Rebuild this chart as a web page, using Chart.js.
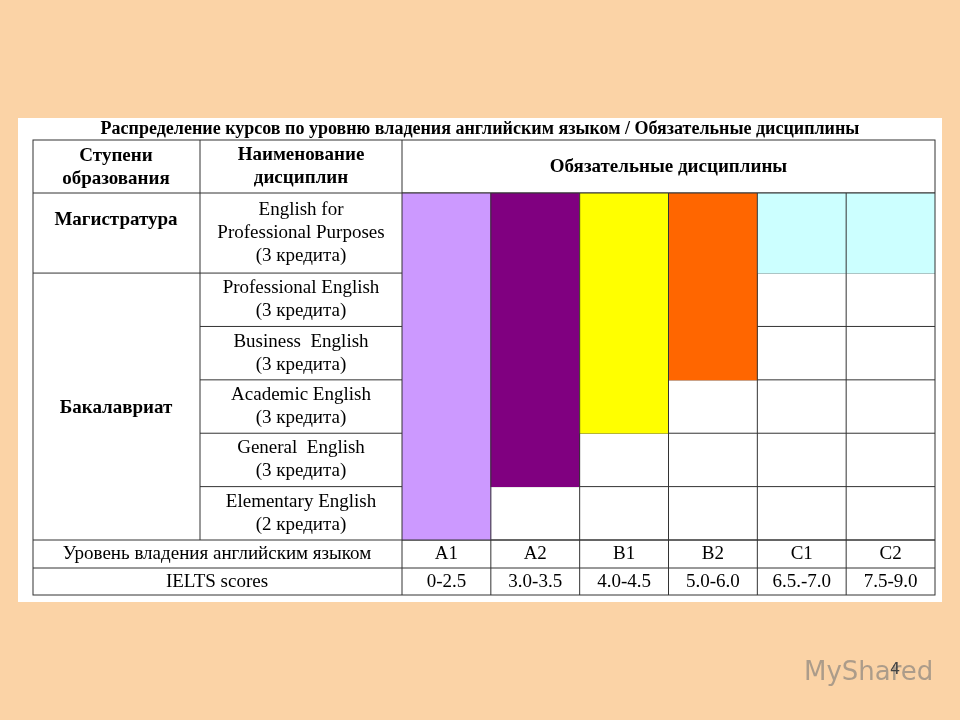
<!DOCTYPE html>
<html>
<head>
<meta charset="utf-8">
<script src="https://cdn.jsdelivr.net/npm/chart.js@4"></script>
<style>
  body { margin: 0; background: #fbd3a6; }
  #wrap { width: 960px; height: 720px; }
</style>
</head>
<body>
<div id="wrap"><canvas id="chart" width="960" height="720"></canvas></div>
<script>
// Data
const levels = ['A1', 'A2', 'B1', 'B2', 'C1', 'C2'];
const ieltsScores = ['0-2.5', '3.0-3.5', '4.0-4.5', '5.0-6.0', '6.5.-7.0', '7.5-9.0'];
// row boundaries: Magistratura 0-1.5, then five bachelor rows of 1 unit each
const rowBounds = [0, 1.5, 2.5, 3.5, 4.5, 5.5, 6.5];
const courses = [
    ['English for', 'Professional Purposes', '(3 кредита)'],
    ['Professional English', '(3 кредита)'],
    ['Business  English', '(3 кредита)'],
    ['Academic English', '(3 кредита)'],
    ['General  English', '(3 кредита)'],
    ['Elementary English', '(2 кредита)']
];
const coverage = [[0, 6.5], [0, 5.5], [0, 4.5], [0, 3.5], [0, 1.5], [0, 1.5]];
const barColors = ['#cc99ff', '#800080', '#ffff00', '#ff6600', '#ccffff', '#ccffff'];

const serif = '"Liberation Serif", "DejaVu Serif", serif';

function line(ctx, x1, y1, x2, y2) {
    ctx.beginPath();
    ctx.moveTo(x1, y1);
    ctx.lineTo(x2, y2);
    ctx.stroke();
}

function text(ctx, str, x, y, bold, size) {
    ctx.font = (bold ? 'bold ' : '') + size + 'px ' + serif;
    ctx.fillText(str, x, y);
}

const tablePlugin = {
    id: 'table',
    beforeDraw(chart) {
        const ctx = chart.ctx;
        ctx.save();
        ctx.fillStyle = '#fbd3a6';
        ctx.fillRect(0, 0, 960, 720);
        ctx.fillStyle = '#ffffff';
        ctx.fillRect(18, 118, 924, 484);
        ctx.restore();
    },
    beforeDatasetsDraw(chart) {
        const ctx = chart.ctx, x = chart.scales.x, y = chart.scales.y;
        const area = chart.chartArea;
        ctx.save();
        ctx.strokeStyle = '#333';
        ctx.lineWidth = 1;
        rowBounds.forEach(v => line(ctx, area.left, y.getPixelForValue(v), area.right, y.getPixelForValue(v)));
        ctx.restore();
    },
    afterDatasetsDraw(chart) {
        const ctx = chart.ctx, x = chart.scales.x, y = chart.scales.y;
        const area = chart.chartArea;
        const colW = (area.right - area.left) / levels.length;
        const left = 33, c1 = 200, right = area.right;
        const top = 140, row1 = 568, bottom = 595;
        ctx.save();
        ctx.strokeStyle = '#333';
        ctx.lineWidth = 1;
        // outer and fixed lines
        ctx.strokeRect(left, top, right - left, bottom - top);
        line(ctx, left, area.top, right, area.top);
        line(ctx, left, area.bottom, right, area.bottom);
        line(ctx, left, row1, right, row1);
        line(ctx, c1, top, c1, area.bottom);
        line(ctx, area.left, top, area.left, bottom);
        line(ctx, left, y.getPixelForValue(1.5), area.left, y.getPixelForValue(1.5));
        for (let i = 2; i < rowBounds.length - 1; i++) {
            const py = y.getPixelForValue(rowBounds[i]);
            line(ctx, c1, py, area.left, py);
        }
        for (let i = 1; i < levels.length; i++) {
            const px = area.left + i * colW;
            line(ctx, px, area.top, px, bottom);
        }
        // texts
        ctx.fillStyle = '#000';
        ctx.textAlign = 'center';
        ctx.textBaseline = 'middle';
        text(ctx, 'Распределение курсов по уровню владения английским языком / Обязательные дисциплины', 480, 129, true, 18);
        text(ctx, 'Ступени', 116, 156, true, 19);
        text(ctx, 'образования', 116, 179, true, 19);
        text(ctx, 'Наименование', 301, 155, true, 19);
        text(ctx, 'дисциплин', 301, 178, true, 19);
        text(ctx, 'Обязательные дисциплины', (area.left + right) / 2, 167, true, 19);
        text(ctx, 'Магистратура', 116, 220, true, 19);
        text(ctx, 'Бакалавриат', 116, 408, true, 19);
        courses.forEach((lines, i) => {
            const cy = (y.getPixelForValue(rowBounds[i]) + y.getPixelForValue(rowBounds[i + 1])) / 2;
            const start = cy - (lines.length - 1) * 11.5;
            lines.forEach((s, j) => text(ctx, s, 301, start + j * 23, false, 19));
        });
        text(ctx, 'Уровень владения английским языком', 217, 554, false, 19);
        text(ctx, 'IELTS scores', 217, 582, false, 19);
        levels.forEach((lv, i) => {
            const px = x.getPixelForValue(i);
            text(ctx, lv, px, 554, false, 19);
            text(ctx, ieltsScores[i], px, 582, false, 19);
        });
        // watermark
        ctx.font = '26px "DejaVu Sans", sans-serif';
        ctx.fillStyle = 'rgba(120,120,120,0.6)';
        ctx.textAlign = 'left';
        ctx.fillText('MyShared', 804, 673);
        ctx.fillStyle = '#444';
        ctx.font = '16px "DejaVu Sans", sans-serif';
        ctx.fillText('4', 890, 670);
        ctx.restore();
    }
};

new Chart(document.getElementById('chart'), {
    type: 'bar',
    data: {
        labels: levels,
        datasets: [{
            data: coverage,
            backgroundColor: barColors,
            borderWidth: 0,
            barPercentage: 1,
            categoryPercentage: 1
        }]
    },
    options: {
        responsive: false,
        animation: false,
        layout: { padding: { left: 402, right: 25, top: 193, bottom: 180 } },
        plugins: { legend: { display: false }, tooltip: { enabled: false } },
        scales: {
            x: { display: false },
            y: { display: false, reverse: true, min: 0, max: 6.5 }
        }
    },
    plugins: [tablePlugin]
});
</script>
</body>
</html>
